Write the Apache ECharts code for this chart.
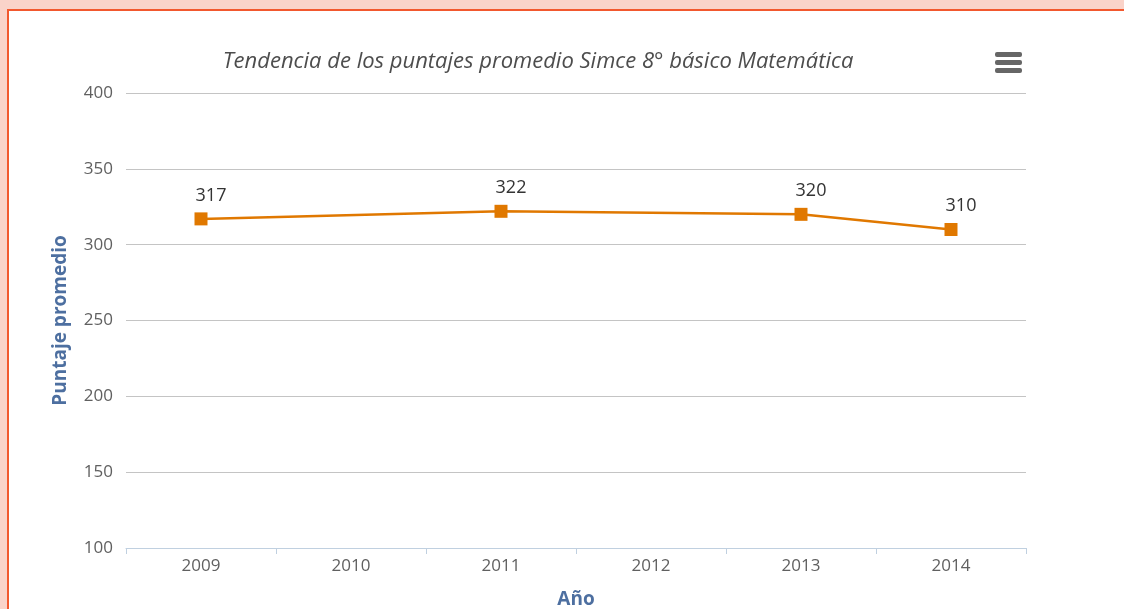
<!DOCTYPE html>
<html>
<head>
<meta charset="utf-8">
<script src="https://cdn.jsdelivr.net/npm/echarts@6/dist/echarts.min.js"></script>
<style>
  html, body { margin: 0; padding: 0; width: 1124px; height: 609px; overflow: hidden; background: #fad3c9; }
  .marco { position: absolute; left: 7px; top: 9px; width: 1200px; height: 700px;
           background: #fff; border-top: 2px solid #f2582e; border-left: 2px solid #f2582e; }
  #main { position: absolute; left: 0; top: 0; width: 1124px; height: 609px; }
</style>
</head>
<body>
<div class="marco"></div>
<div id="main"></div>
<script>
// datos del gráfico
var anios = ['2009', '2010', '2011', '2012', '2013', '2014'];
var puntajes = [317, null, 322, null, 320, 310];
var ticksY = [100, 150, 200, 250, 300, 350, 400];

var myChart = echarts.init(document.getElementById('main'));

var fuente = '"Open Sans", "DejaVu Sans", sans-serif';

var option = {
  animation: false,
  title: {
    text: 'Tendencia de los puntajes promedio Simce 8° básico Matemática',
    left: 533,
    top: 46,
    textAlign: 'center',
    textStyle: {
      fontFamily: fuente,
      fontStyle: 'italic',
      fontWeight: 'normal',
      fontSize: 22,
      color: '#4d4d4d'
    }
  },
  grid: { left: 126, right: 98, top: 93, bottom: 61, containLabel: false, outerBoundsMode: 'none' },
  xAxis: {
    type: 'category',
    data: anios,
    boundaryGap: true,
    name: 'Año',
    nameLocation: 'middle',
    nameGap: 42,
    nameTextStyle: { fontFamily: fuente, fontWeight: 'bold', fontSize: 19, color: '#4d6fa0' },
    axisLine: { lineStyle: { color: '#c0d0e0', width: 1 } },
    axisTick: { show: true, length: 6, interval: 0, lineStyle: { color: '#c0d0e0' } },
    axisLabel: { margin: 10, fontFamily: fuente, fontSize: 17, color: '#606060' },
    splitLine: { show: false }
  },
  yAxis: {
    type: 'value',
    min: ticksY[0],
    max: ticksY[ticksY.length - 1],
    interval: 50,
    name: 'Puntaje promedio',
    nameLocation: 'middle',
    nameRotate: 90,
    nameGap: 56,
    nameTextStyle: { fontFamily: fuente, fontWeight: 'bold', fontSize: 19, color: '#4d6fa0' },
    axisLine: { show: false },
    axisTick: { show: false },
    axisLabel: { margin: 13, fontFamily: fuente, fontSize: 17, color: '#606060' },
    splitLine: { lineStyle: { color: '#c4c4c4', width: 1 } }
  },
  series: [{
    type: 'line',
    data: puntajes,
    connectNulls: true,
    symbol: 'rect',
    symbolSize: 13,
    itemStyle: { color: '#e07800' },
    lineStyle: { color: '#e07800', width: 2.5 },
    label: {
      show: true,
      position: 'top',
      distance: 8,
      offset: [10, 0],
      fontFamily: fuente,
      fontSize: 18,
      color: '#333'
    }
  }],
  graphic: [{
    type: 'group',
    left: 995,
    top: 52,
    children: [
      { type: 'rect', shape: { x: 0, y: 0, width: 27, height: 5, r: 2 }, style: { fill: '#666' } },
      { type: 'rect', shape: { x: 0, y: 8, width: 27, height: 5, r: 2 }, style: { fill: '#666' } },
      { type: 'rect', shape: { x: 0, y: 16, width: 27, height: 5, r: 2 }, style: { fill: '#666' } }
    ]
  }]
};

myChart.setOption(option);
</script>
</body>
</html>
